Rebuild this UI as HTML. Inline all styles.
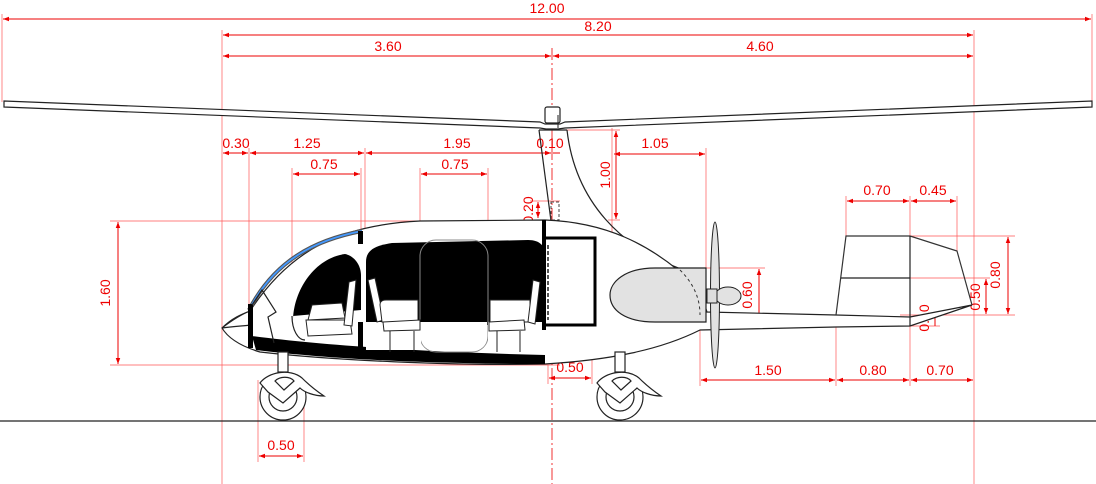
<!DOCTYPE html>
<html><head><meta charset="utf-8"><style>
html,body{margin:0;padding:0;background:#fff;}
svg{display:block;}
text{font-family:"Liberation Sans",sans-serif;font-size:14px;fill:#e00;text-anchor:middle;}
.d{stroke:#e00;stroke-width:1;fill:none;}
.e{stroke:#f55;stroke-width:0.7;fill:none;}
.k{stroke:#222;stroke-width:1.2;fill:none;}
</style></head><body>
<svg width="1096" height="484" viewBox="0 0 1096 484" xmlns="http://www.w3.org/2000/svg">
<defs>
<marker id="a" viewBox="0 0 8 8" refX="8" refY="4" markerWidth="6" markerHeight="6" orient="auto-start-reverse"><path d="M0,1L8,4L0,7z" fill="#e00"/></marker>
</defs>
<g class="e">
<line x1="2" y1="14" x2="2" y2="102"/><line x1="1092" y1="14" x2="1092" y2="102"/>
<line x1="222" y1="30" x2="222" y2="484"/><line x1="974" y1="30" x2="974" y2="484"/>
<line x1="249" y1="148" x2="249" y2="312"/><line x1="292" y1="168" x2="292" y2="315"/>
<line x1="361" y1="168" x2="361" y2="232"/><line x1="365" y1="148" x2="365" y2="232"/>
<line x1="420" y1="168" x2="420" y2="240"/><line x1="488" y1="168" x2="488" y2="240"/>
<line x1="612" y1="128" x2="612" y2="270"/><line x1="706" y1="148" x2="706" y2="270"/>
<line x1="567" y1="130" x2="620" y2="130"/><line x1="608" y1="220" x2="620" y2="220"/>
<line x1="110" y1="221" x2="545" y2="221"/><line x1="110" y1="365" x2="560" y2="365"/>
<line x1="592" y1="325" x2="592" y2="384"/><line x1="548" y1="365" x2="548" y2="384"/>
<line x1="258" y1="380" x2="258" y2="462"/><line x1="304" y1="380" x2="304" y2="462"/>
<line x1="700" y1="325" x2="700" y2="386"/><line x1="836" y1="315" x2="836" y2="386"/>
<line x1="910" y1="326" x2="910" y2="386"/><line x1="846" y1="196" x2="846" y2="236"/>
<line x1="910" y1="196" x2="910" y2="236"/><line x1="957" y1="196" x2="957" y2="251"/>
<line x1="910" y1="236" x2="1015" y2="236"/><line x1="910" y1="278" x2="990" y2="278"/>
<line x1="900" y1="315" x2="1015" y2="315"/><line x1="680" y1="268" x2="765" y2="268"/>
<line x1="690" y1="322" x2="765" y2="322"/><line x1="530" y1="201" x2="560" y2="201"/>
<line x1="910" y1="326" x2="940" y2="326"/>
</g>
<line x1="552" y1="48" x2="552" y2="484" stroke="#e00" stroke-width="0.8" stroke-dasharray="12,3,2,3"/>
<g class="d">
<line x1="3" y1="19" x2="1091" y2="19" marker-start="url(#a)" marker-end="url(#a)"/>
<line x1="223" y1="35" x2="973" y2="35" marker-start="url(#a)" marker-end="url(#a)"/>
<line x1="223" y1="56" x2="551" y2="56" marker-start="url(#a)" marker-end="url(#a)"/>
<line x1="553" y1="56" x2="973" y2="56" marker-start="url(#a)" marker-end="url(#a)"/>
<line x1="223" y1="153" x2="248" y2="153" marker-start="url(#a)" marker-end="url(#a)"/>
<line x1="250" y1="153" x2="364" y2="153" marker-start="url(#a)" marker-end="url(#a)"/>
<line x1="366" y1="153" x2="551" y2="153" marker-start="url(#a)" marker-end="url(#a)"/>
<line x1="553" y1="153" x2="560" y2="153"/>
<line x1="293" y1="174" x2="360" y2="174" marker-start="url(#a)" marker-end="url(#a)"/>
<line x1="421" y1="174" x2="487" y2="174" marker-start="url(#a)" marker-end="url(#a)"/>
<line x1="614" y1="154" x2="705" y2="154" marker-start="url(#a)" marker-end="url(#a)"/>
<line x1="616" y1="131" x2="616" y2="219" marker-start="url(#a)" marker-end="url(#a)"/>
<line x1="538" y1="202" x2="538" y2="218" marker-start="url(#a)" marker-end="url(#a)"/>
<line x1="118" y1="222" x2="118" y2="364" marker-start="url(#a)" marker-end="url(#a)"/>
<line x1="549" y1="378" x2="591" y2="378" marker-start="url(#a)" marker-end="url(#a)"/>
<line x1="259" y1="456" x2="303" y2="456" marker-start="url(#a)" marker-end="url(#a)"/>
<line x1="701" y1="380" x2="835" y2="380" marker-start="url(#a)" marker-end="url(#a)"/>
<line x1="837" y1="380" x2="909" y2="380" marker-start="url(#a)" marker-end="url(#a)"/>
<line x1="911" y1="380" x2="973" y2="380" marker-start="url(#a)" marker-end="url(#a)"/>
<line x1="847" y1="201" x2="909" y2="201" marker-start="url(#a)" marker-end="url(#a)"/>
<line x1="911" y1="201" x2="956" y2="201" marker-start="url(#a)" marker-end="url(#a)"/>
<line x1="1008" y1="237" x2="1008" y2="314" marker-start="url(#a)" marker-end="url(#a)"/>
<line x1="986" y1="279" x2="986" y2="314" marker-start="url(#a)" marker-end="url(#a)"/>
<line x1="759" y1="269" x2="759" y2="321" marker-start="url(#a)" marker-end="url(#a)"/>
<line x1="935" y1="315" x2="935" y2="326"/>
<line x1="700" y1="312" x2="700" y2="330"/>
</g>
<g>
<text x="547" y="13">12.00</text>
<text x="598" y="31">8.20</text>
<text x="388" y="51">3.60</text>
<text x="760" y="51">4.60</text>
<text x="236" y="148">0.30</text>
<text x="307" y="148">1.25</text>
<text x="457" y="148">1.95</text>
<text x="550" y="148">0.10</text>
<text x="324" y="169">0.75</text>
<text x="455" y="169">0.75</text>
<text x="655" y="148">1.05</text>
<text x="877" y="195">0.70</text>
<text x="933" y="195">0.45</text>
<text x="570" y="372">0.50</text>
<text x="281" y="450">0.50</text>
<text x="768" y="375">1.50</text>
<text x="873" y="375">0.80</text>
<text x="940" y="375">0.70</text>
<text transform="translate(110,293) rotate(-90)">1.60</text>
<text transform="translate(610,175) rotate(-90)">1.00</text>
<text transform="translate(533,210) rotate(-90)">0.20</text>
<text transform="translate(752,295) rotate(-90)">0.60</text>
<text transform="translate(694,320) rotate(-90)">0.20</text>
<text transform="translate(1000,275) rotate(-90)">0.80</text>
<text transform="translate(980,297) rotate(-90)">0.50</text>
<text transform="translate(929,318) rotate(-90)">0.10</text>
</g>
<line x1="0" y1="421" x2="1096" y2="421" stroke="#222" stroke-width="1.2"/>
<path d="M4,101 L540,122 L545,124 L560,124 L565,122 L1092,101 L1092,107 L565,128 L558,129 L546,129 L540,128 L4,107 Z" fill="#fff" stroke="#222" stroke-width="1.2"/>
<rect x="545" y="107" width="15" height="16" rx="2" fill="#fff" stroke="#222" stroke-width="1.2"/>
<line x1="558" y1="115" x2="558" y2="128" stroke="#222"/>
<path class="k" d="M539,130 L567,130 M539,130 L551,221 M567,130 C575,200 620,250 690,272"/>
<rect x="551" y="202" width="8" height="18" fill="none" stroke="#444" stroke-dasharray="3,2"/>
<path d="M222,328 C235,318 245,313 250,311 C290,250 340,225 420,221 L545,220 C600,222 650,240 700,290 L707,312 L836,315 L910,317 L972,305 L910,326 L836,327 L700,330 C660,350 610,360 545,364 C450,366 330,360 260,352 C240,346 228,338 222,328 Z" fill="#fff" stroke="#222" stroke-width="1.2"/>
<path class="k" d="M222,328 C235,326 245,326 250,325 M222,328 C232,318 242,314 250,311"/>
<path d="M249,310 C275,260 315,240 362,231" fill="none" stroke="#555" stroke-width="4"/>
<path d="M249,310 C275,260 315,240 362,231" fill="none" stroke="#49f" stroke-width="1.8"/>
<path d="M252,336 C320,345 420,352 545,355 L545,364 C420,364 320,358 256,350 Z" fill="#000"/>
<rect x="248" y="304" width="5" height="44" fill="#000"/>
<path d="M252,305 L262,290 L276,312 L268,317 L274,343" fill="none" stroke="#222" stroke-width="1.2"/>
<path d="M293,322 C293,290 315,258 345,254 C355,256 361,266 361,275 L361,310 L293,316 Z" fill="#000"/>
<path d="M306,320 L350,320 L352,334 L308,336 Z" fill="#fff" stroke="#222"/>
<path d="M312,305 L342,303 L345,318 L308,320 Z" fill="#fff" stroke="#222"/>
<path d="M349,282 L356,280 L352,326 L344,325 Z" fill="#fff" stroke="#222"/>
<path class="k" d="M292,316 C292,330 298,340 305,340"/>
<rect x="358" y="231" width="5" height="13" fill="#000"/>
<rect x="358" y="322" width="5" height="28" fill="#000"/>
<path d="M366,262 C366,252 372,246 392,243 L528,240 C540,240 545,246 545,255 L545,325 L366,325 Z" fill="#000"/>
<rect x="420" y="240" width="68" height="112" rx="16" fill="none" stroke="#888" stroke-width="1"/>
<path d="M421,322 L487,322 L487,338 C487,346 480,351 472,351 L436,351 C428,351 421,346 421,338 Z" fill="#fff"/>
<rect x="366" y="322" width="55" height="28" fill="#fff"/>
<rect x="488" y="322" width="56" height="28" fill="#fff"/>
<path d="M368,280 L375,278 L384,320 L377,322 Z" fill="#fff" stroke="#222"/>
<path d="M380,305 C380,302 382,300 386,300 L418,300 L418,322 L382,322 Z" fill="#fff" stroke="#222"/>
<path d="M383,322 L420,320 L420,330 L384,331 Z" fill="#fff" stroke="#222"/>
<line x1="390" y1="331" x2="390" y2="352" stroke="#222"/><line x1="414" y1="331" x2="414" y2="352" stroke="#222"/>
<path d="M490,300 L530,300 L530,322 L490,322 Z" fill="#fff" stroke="#222"/>
<path d="M489,322 L524,320 L525,330 L489,331 Z" fill="#fff" stroke="#222"/>
<path d="M533,280 L540,282 L535,324 L528,322 Z" fill="#fff" stroke="#222"/>
<line x1="497" y1="331" x2="497" y2="352" stroke="#222"/><line x1="520" y1="331" x2="520" y2="352" stroke="#222"/>
<line x1="548" y1="245" x2="548" y2="320" stroke="#555" stroke-width="2" stroke-dasharray="4,2"/>
<rect x="542" y="220" width="4" height="110" fill="#000"/>
<path d="M546,238 L595,238 L595,325 L546,325" fill="none" stroke="#000" stroke-width="3"/>
<path d="M706,268 L655,268 C625,268 610,282 610,295 C610,310 625,322 655,322 L706,322 Z" fill="#e2e2e2" stroke="#222" stroke-width="1.2"/>
<path d="M680,270 C695,285 700,300 700,315" fill="none" stroke="#333" stroke-dasharray="3,3"/>
<ellipse cx="715" cy="295" rx="4.5" ry="73" fill="#e2e2e2" stroke="#222"/>
<ellipse cx="728" cy="296" rx="13" ry="9" fill="#e2e2e2" stroke="#222"/>
<rect x="707" y="289" width="10" height="14" fill="#ddd" stroke="#222"/>
<path d="M836,315 L846,236 L910,236 L957,251 L972,305" fill="none" stroke="#333" stroke-width="1.2"/>
<path class="k" d="M841,278 L910,278 M910,236 L910,326"/>
<g id="w" fill="#fff" stroke="#222" stroke-width="1.2">
<rect x="278" y="352" width="10" height="20"/>
<circle cx="283" cy="397" r="23"/>
<circle cx="283" cy="397" r="14"/>
<path d="M260,383 C268,372 290,368 302,378 C310,386 318,392 324,396 C314,396 304,392 300,388 L283,403 L268,392 Z"/>
<path d="M275,381 C280,376 290,376 294,381 L284,390 Z"/>
</g>
<use href="#w" x="337" y="0"/>
</svg>
</body></html>
